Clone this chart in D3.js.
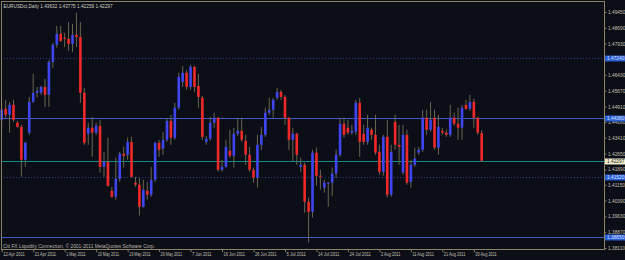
<!DOCTYPE html>
<html lang="en">
<head>
<meta charset="UTF-8">
<title>EURUSDct, Daily</title>
<script src="https://d3js.org/d3.v7.min.js"></script>
<style>
  html, body { margin: 0; padding: 0; background: #0b0d17; }
  svg { display: block; }
  .axis text { font-family: "Liberation Sans", sans-serif; font-size: 5.4px; fill: #c4c2b2; }
  .yaxis text { font-size: 4.8px; }
  .axis line, .axis path { stroke: #8a8262; }
</style>
</head>
<body>
<div id="chart"></div>
<script>
// daily bars, 12 Apr 2011 .. 1 Sep 2011 (MT4 style, sunday bars included)
var open  = [1.4427,1.4480,1.4451,1.4499,1.4413,1.4393,1.4235,1.4365,1.4513,1.4557,1.4557,1.4585,1.4547,1.4705,1.4787,1.4840,1.4821,1.4816,1.4792,1.4835,
             1.4825,1.4557,1.4360,1.4389,1.4365,1.4398,1.4201,1.4225,1.4086,1.4057,1.4144,1.4264,1.4259,1.4321,1.4125,1.4115,1.4009,1.4086,1.4067,1.4139,
             1.4317,1.4288,1.4331,1.4422,1.4341,1.4485,1.4609,1.4653,1.4585,1.4681,1.4590,1.4533,1.4321,1.4336,1.4413,1.4437,1.4187,1.4201,1.4278,1.4254,
             1.4360,1.4374,1.4326,1.4259,1.4187,1.4149,1.4307,1.4355,1.4461,1.4475,1.4533,1.4561,1.4537,1.4437,1.4331,1.4360,1.4201,1.4211,1.4033,1.3985,
             1.4269,1.4158,1.4101,1.4120,1.4125,1.4168,1.4259,1.4408,1.4389,1.4365,1.4369,1.4509,1.4360,1.4321,1.4379,1.4355,1.4273,1.4177,1.4345,1.4067,
             1.4417,1.4307,1.4173,1.4355,1.4129,1.4211,1.4269,1.4283,1.4437,1.4379,1.4437,1.4293,1.4374,1.4365,1.4355,1.4437,1.4408,1.4389,1.4499,1.4480,
             1.4513,1.4437,1.43632];
var high  = [1.4523,1.4523,1.4513,1.4523,1.4422,1.4403,1.4321,1.4537,1.4648,1.4585,1.4590,1.4624,1.4715,1.4797,1.4878,1.4878,1.4845,1.4897,1.4888,1.4941,
             1.4897,1.4581,1.4413,1.4441,1.4413,1.4427,1.4273,1.4341,1.4105,1.4245,1.4273,1.4297,1.4341,1.4345,1.4153,1.4149,1.4139,1.4129,1.4201,1.4321,
             1.4331,1.4369,1.4437,1.4451,1.4509,1.4653,1.4686,1.4667,1.4691,1.4686,1.4648,1.4542,1.4350,1.4441,1.4461,1.4441,1.4235,1.4331,1.4379,1.4389,
             1.4437,1.4437,1.4355,1.4297,1.4197,1.4355,1.4393,1.4485,1.4533,1.4533,1.4581,1.4571,1.4547,1.4441,1.4389,1.4365,1.4245,1.4221,1.4053,1.4283,
             1.4293,1.4187,1.4139,1.4129,1.4197,1.4283,1.4437,1.4437,1.4427,1.4403,1.4523,1.4533,1.4403,1.4451,1.4389,1.4451,1.4307,1.4355,1.4427,1.4307,
             1.4451,1.4403,1.4403,1.4379,1.4235,1.4293,1.4297,1.4475,1.4475,1.4513,1.4475,1.4451,1.4389,1.4379,1.4499,1.4461,1.4485,1.4499,1.4523,1.4547,
             1.4528,1.4441,1.43775];
var low   = [1.4379,1.4437,1.4365,1.4417,1.4389,1.4153,1.4201,1.4355,1.4509,1.4533,1.4547,1.4489,1.4489,1.4677,1.4773,1.4801,1.4777,1.4758,1.4753,1.4777,
             1.4509,1.4307,1.4307,1.4249,1.4355,1.4173,1.4153,1.4105,1.4053,1.4043,1.4129,1.4197,1.4235,1.4149,1.4105,1.3967,1.4005,1.4043,1.4057,1.4129,
             1.4249,1.4259,1.4321,1.4307,1.4331,1.4475,1.4585,1.4571,1.4571,1.4561,1.4485,1.4331,1.4307,1.4326,1.4389,1.4177,1.4177,1.4197,1.4245,1.4197,
             1.4350,1.4321,1.4211,1.4177,1.4125,1.4101,1.4283,1.4345,1.4451,1.4437,1.4523,1.4523,1.4403,1.4283,1.4225,1.4211,1.4177,1.3981,1.3837,1.3957,
             1.4110,1.4091,1.4077,1.4009,1.4062,1.4149,1.4249,1.4341,1.4355,1.4355,1.4355,1.4249,1.4307,1.4307,1.4331,1.4259,1.4163,1.4158,1.4053,1.4057,
             1.4283,1.4211,1.4163,1.4115,1.4101,1.4201,1.4259,1.4273,1.4355,1.4369,1.4283,1.4259,1.4355,1.4345,1.4345,1.4398,1.4331,1.4331,1.4475,1.4470,
             1.4389,1.4355,1.42259];
var close = [1.4475,1.4451,1.4499,1.4427,1.4393,1.4235,1.4317,1.4513,1.4557,1.4566,1.4585,1.4547,1.4705,1.4787,1.4840,1.4806,1.4816,1.4792,1.4835,1.4825,
             1.4557,1.4317,1.4389,1.4365,1.4398,1.4201,1.4225,1.4110,1.4057,1.4144,1.4264,1.4254,1.4321,1.4153,1.4115,1.4009,1.4091,1.4067,1.4139,1.4317,
             1.4283,1.4331,1.4422,1.4341,1.4485,1.4633,1.4653,1.4585,1.4681,1.4585,1.4537,1.4345,1.4336,1.4413,1.4437,1.4187,1.4201,1.4297,1.4254,1.4360,
             1.4374,1.4331,1.4259,1.4187,1.4149,1.4307,1.4355,1.4461,1.4475,1.4523,1.4561,1.4537,1.4437,1.4331,1.4360,1.4259,1.4211,1.4033,1.3985,1.4269,
             1.4158,1.4153,1.4125,1.4125,1.4168,1.4259,1.4408,1.4355,1.4365,1.4374,1.4509,1.4321,1.4321,1.4389,1.4355,1.4269,1.4177,1.4345,1.4067,1.4273,
             1.4307,1.4297,1.4355,1.4125,1.4211,1.4240,1.4283,1.4437,1.4379,1.4427,1.4293,1.4393,1.4365,1.4355,1.4437,1.4408,1.4389,1.4485,1.4480,1.4513,
             1.4437,1.4365,1.42297];

// time axis labels, one every 8 bars
var tickIdx    = [0, 8, 16, 24, 32, 40, 48, 56, 64, 72, 80, 88, 96, 104, 112, 120];
var tickLabels = ["12 Apr 2011","21 Apr 2011","1 May 2011","10 May 2011","19 May 2011","29 May 2011","7 Jun 2011","16 Jun 2011",
                  "26 Jun 2011","5 Jul 2011","14 Jul 2011","24 Jul 2011","2 Aug 2011","11 Aug 2011","21 Aug 2011","30 Aug 2011"];

// price scale ticks
var priceTicks = [1.4945, 1.4869, 1.4793, 1.4717, 1.4643, 1.4567, 1.4491, 1.4416, 1.4341, 1.4265, 1.4189, 1.4115, 1.4039, 1.3963, 1.3887, 1.3811];

// horizontal lines
var solidLevels  = [1.4438, 1.3865];
var dottedLevels = [1.4724, 1.4152];
var bid = 1.42297;

var width = 625, height = 260;
var plotRight = 604.5, plotBottom = 249.5;

var svg = d3.select("#chart").append("svg")
  .attr("width", width)
  .attr("height", height);

svg.append("rect").attr("width", width).attr("height", height).attr("fill", "#0b0d17");

var x = d3.scaleLinear().domain([0, open.length - 1]).range([1.7, 481.7]);
var y = d3.scaleLinear().domain([1.3811, 1.4945]).range([248, 12]);

var bars = d3.range(open.length);

// squeeze small text to the width the terminal font takes
function fit(sel, perChar) {
  sel.attr("textLength", function(){ return this.textContent.length * perChar; })
     .attr("lengthAdjust", "spacingAndGlyphs");
}

// level lines (behind candles)
svg.selectAll(".dotted").data(dottedLevels).enter().append("line")
  .attr("x1", 1).attr("x2", plotRight)
  .attr("y1", function(d){ return Math.round(y(d)) + 0.5; })
  .attr("y2", function(d){ return Math.round(y(d)) + 0.5; })
  .attr("stroke", "#2e3f88").attr("stroke-dasharray", "1,2");

svg.selectAll(".solid").data(solidLevels).enter().append("line")
  .attr("x1", 1).attr("x2", plotRight)
  .attr("y1", function(d){ return Math.round(y(d)) + 0.5; })
  .attr("y2", function(d){ return Math.round(y(d)) + 0.5; })
  .attr("stroke", "#3b5bc9");

svg.append("line")
  .attr("x1", 1).attr("x2", plotRight)
  .attr("y1", Math.round(y(bid)) + 0.5).attr("y2", Math.round(y(bid)) + 0.5)
  .attr("stroke", "#138a8a");

// wicks
svg.selectAll(".wick").data(bars).enter().append("line")
  .attr("x1", function(i){ return x(i); })
  .attr("x2", function(i){ return x(i); })
  .attr("y1", function(i){ return y(high[i]); })
  .attr("y2", function(i){ return y(low[i]); })
  .attr("stroke", "#6a674f").attr("stroke-width", 1);

// bodies
svg.selectAll(".body").data(bars).enter().append("rect")
  .attr("x", function(i){ return x(i) - 1.3; })
  .attr("width", 2.6)
  .attr("y", function(i){ return y(Math.max(open[i], close[i])); })
  .attr("height", function(i){ return Math.max(1, Math.abs(y(open[i]) - y(close[i]))); })
  .attr("fill", function(i){ return close[i] >= open[i] ? "#3f46f0" : "#f0282a"; });

// frame
svg.append("rect")
  .attr("x", 1.5).attr("y", 1.5)
  .attr("width", plotRight - 1.5).attr("height", plotBottom - 1.5)
  .attr("fill", "none").attr("stroke", "#8a8262");

// price axis on the right
var yAxis = svg.append("g")
  .attr("class", "axis yaxis")
  .attr("transform", "translate(" + plotRight + ",0)")
  .call(d3.axisRight(y).tickValues(priceTicks).tickFormat(d3.format(".5f")).tickSize(2).tickPadding(1.5));
yAxis.select(".domain").remove();

// time axis
var xAxis = svg.append("g")
  .attr("class", "axis")
  .attr("transform", "translate(0," + plotBottom + ")")
  .call(d3.axisBottom(x).tickValues(tickIdx).tickFormat(function(d, i){ return tickLabels[i]; }).tickSize(2.5).tickPadding(1));
xAxis.select(".domain").remove();
xAxis.selectAll("text").attr("text-anchor", "start").attr("dx", "1").attr("dy", "0.5em");
fit(xAxis.selectAll("text"), 1.95);

// highlighted price labels
function priceTag(v, bg, fg) {
  var yy = Math.round(y(v)) + 0.5;
  svg.append("rect").attr("x", plotRight + 0.5).attr("y", yy - 3).attr("width", 20).attr("height", 6).attr("fill", bg);
  svg.append("text").attr("x", plotRight + 2.5).attr("y", yy + 1.8)
    .style("font-family", "Liberation Sans, sans-serif").style("font-size", "4.8px").attr("fill", fg)
    .text(d3.format(".5f")(v));
}
dottedLevels.forEach(function(v){ priceTag(v, "#2b5fd6", "#d8e0ff"); });
solidLevels.forEach(function(v){ priceTag(v, "#2b5fd6", "#d8e0ff"); });
priceTag(bid, "#f3efcf", "#202020");

// header
var head = svg.append("text").attr("x", 3.5).attr("y", 7.5)
  .style("font-family", "Liberation Sans, sans-serif").style("font-size", "5.6px").attr("fill", "#d4d2c2")
  .text("EURUSDct,Daily  1.43632 1.43775 1.42259 1.42297");
fit(head, 2.32);

// copyright
var copy = svg.append("text").attr("x", 3).attr("y", 248.3)
  .style("font-family", "Liberation Sans, sans-serif").style("font-size", "5.4px").attr("fill", "#b8b6a6")
  .text("Citi FX Liquidity Connection, \u00a9 2001-2011 MetaQuotes Software Corp.");
fit(copy, 2.27);
</script>
</body>
</html>
